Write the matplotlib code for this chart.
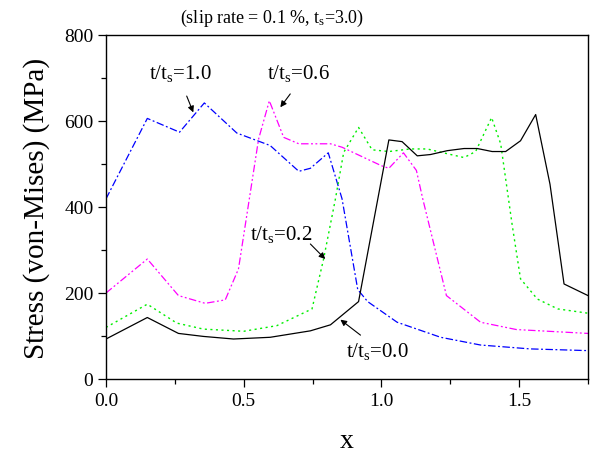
import matplotlib
matplotlib.use("Agg")
import matplotlib.pyplot as plt
from matplotlib.ticker import MultipleLocator, FormatStrFormatter

plt.rcParams['font.family'] = ['Liberation Serif', 'DejaVu Serif']
plt.rcParams['mathtext.fontset'] = 'custom'
plt.rcParams['mathtext.rm'] = 'Liberation Serif'
plt.rcParams['mathtext.it'] = 'Liberation Serif'

# t/ts = 1.0 (blue, dash-dot)
x_10 = [0.0, 0.15, 0.267, 0.357, 0.475, 0.596, 0.70, 0.742, 0.807, 0.857, 0.914,
        0.95, 1.057, 1.215, 1.36, 1.54, 1.75]
y_10 = [419, 606, 574, 642, 572, 543, 483, 490, 526, 419, 208,
        180, 132, 97, 79, 70, 66]

# t/ts = 0.6 (magenta, dash-dot-dot)
x_06 = [0.0, 0.15, 0.263, 0.36, 0.433, 0.481, 0.554, 0.593, 0.645, 0.70, 0.815,
        0.857, 0.91, 1.0, 1.027, 1.08, 1.127, 1.15, 1.236, 1.36, 1.49, 1.75]
y_06 = [200, 279, 194, 176, 184, 256, 558, 647, 562, 547, 547,
        539, 523, 496, 490, 526, 485, 419, 194, 132, 115, 106]

# t/ts = 0.2 (green, dotted)
x_02 = [0.0, 0.15, 0.257, 0.354, 0.5, 0.62, 0.748, 0.79, 0.833, 0.863, 0.917,
        0.966, 1.027, 1.105, 1.166, 1.245, 1.3, 1.342, 1.4, 1.433, 1.475, 1.505,
        1.566, 1.64, 1.75]
y_02 = [120, 174, 130, 116, 111, 124, 163, 279, 419, 527, 585,
        533, 529, 535, 535, 523, 515, 529, 608, 547, 357, 233,
        186, 163, 153]

# t/ts = 0.0 (black, solid)
x_00 = [0.0, 0.15, 0.263, 0.354, 0.463, 0.596, 0.742, 0.815, 0.917, 1.027,
        1.075, 1.13, 1.178, 1.239, 1.3, 1.348, 1.402, 1.451, 1.505, 1.56,
        1.612, 1.663, 1.75]
y_00 = [93, 143, 106, 99, 93, 97, 112, 126, 180, 556,
        552, 519, 522, 531, 536, 536, 529, 529, 554, 615,
        453, 221, 194]

fig = plt.figure(figsize=(6.10, 4.64), dpi=100)
ax = fig.add_axes([106/610, 1-380/464, (588-106)/610, (380-36)/464])

ax.plot(x_10, y_10, color='#0000ff', lw=0.9, dashes=[6, 2, 1.5, 2])
ax.plot(x_06, y_06, color='#ff00ff', lw=0.9, dashes=[6, 2, 1.5, 2, 1.5, 2])
ax.plot(x_02, y_02, color='#00ee00', lw=1.0, dashes=[1.5, 2.5])
ax.plot(x_00, y_00, color='black', lw=0.9)

ax.set_xlim(0, 1.75)
ax.set_ylim(0, 800)
ax.xaxis.set_major_locator(MultipleLocator(0.5))
ax.xaxis.set_minor_locator(MultipleLocator(0.25))
ax.yaxis.set_major_locator(MultipleLocator(200))
ax.yaxis.set_minor_locator(MultipleLocator(100))
ax.xaxis.set_major_formatter(FormatStrFormatter('%.1f'))
ax.tick_params(which='major', direction='out', length=6, width=0.9, labelsize=14, pad=3)
ax.tick_params(which='minor', direction='out', length=3.5, width=0.9)
for s in ax.spines.values():
    s.set_linewidth(1.0)

ax.set_xlabel('x', fontsize=20, labelpad=14)
ax.set_ylabel('Stress (von-Mises) (MPa)', fontsize=21, labelpad=10)
fig.text(272/610, 1-18/464, '(slip rate = 0.1 %, t$_\\mathrm{s}$=3.0)', fontsize=13,
         ha='center', va='center')

ap = dict(arrowstyle='-|>', color='black', lw=0.8, mutation_scale=9, shrinkA=0, shrinkB=0)
lab_fs = 15
ax.text(0.27, 712, 't/t$_\\mathrm{s}$=1.0', fontsize=lab_fs, ha='center', va='center')
ax.annotate('', xy=(0.317, 620), xytext=(0.293, 658), arrowprops=ap)
ax.text(0.70, 712, 't/t$_\\mathrm{s}$=0.6', fontsize=lab_fs, ha='center', va='center')
ax.annotate('', xy=(0.633, 632), xytext=(0.669, 663), arrowprops=ap)
ax.text(0.636, 338, 't/t$_\\mathrm{s}$=0.2', fontsize=lab_fs, ha='center', va='center')
ax.annotate('', xy=(0.796, 279), xytext=(0.742, 314), arrowprops=ap)
ax.text(0.985, 66, 't/t$_\\mathrm{s}$=0.0', fontsize=lab_fs, ha='center', va='center')
ax.annotate('', xy=(0.851, 138), xytext=(0.924, 102), arrowprops=ap)

fig.savefig('out.png', dpi=100)
